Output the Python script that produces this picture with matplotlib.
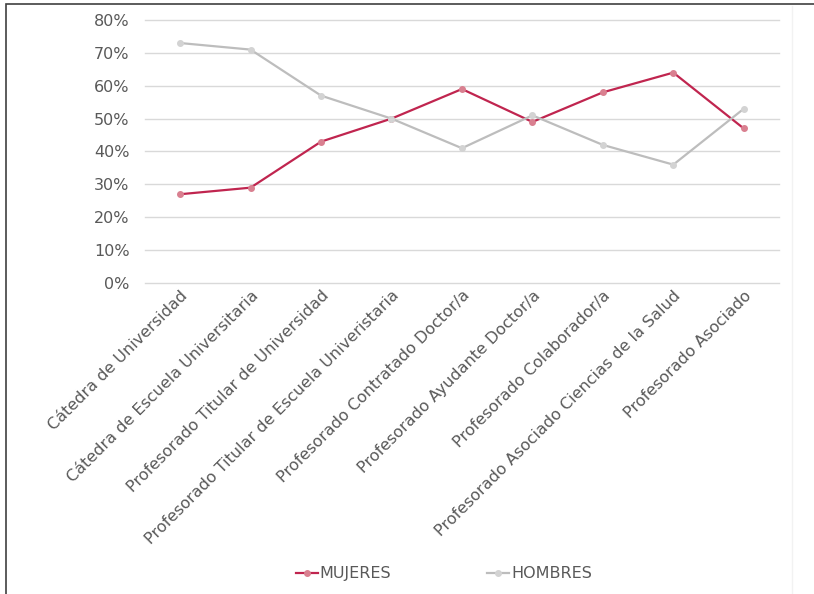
"""Line chart: share of women and men per academic category."""

import matplotlib
matplotlib.use('Agg')

import matplotlib.pyplot as plt
from matplotlib.patches import Rectangle
from matplotlib.lines import Line2D
from matplotlib.ticker import PercentFormatter

# ----------------------------------------------------------------------------

categories = ['Cátedra de Universidad',
              'Cátedra de Escuela Universitaria',
              'Profesorado Titular de Universidad',
              'Profesorado Titular de Escuela Univeristaria',
              'Profesorado Contratado Doctor/a',
              'Profesorado Ayudante Doctor/a',
              'Profesorado Colaborador/a',
              'Profesorado Asociado Ciencias de la Salud',
              'Profesorado Asociado']
mujeres = [0.27, 0.29, 0.43, 0.50, 0.59, 0.49, 0.58, 0.64, 0.47]
hombres = [0.73, 0.71, 0.57, 0.50, 0.41, 0.51, 0.42, 0.36, 0.53]
yticks = [0, 0.1, 0.2, 0.3, 0.4, 0.5, 0.6, 0.7, 0.8]

text_color = '#595959'
colors = {'MUJERES': ('#C0254F', '#D98090'),
          'HOMBRES': ('#BDBDBD', '#D3D3D3')}

plt.rcParams['font.family'] = ['DejaVu Sans']

fig = plt.figure(figsize=(8.14, 5.94), dpi=100)
ax = fig.add_axes([0.178, 0.5236, 0.779, 0.4427])

x = range(len(categories))
for name, values in (('MUJERES', mujeres), ('HOMBRES', hombres)):
    line_c, mark_c = colors[name]
    ax.plot(x, values, color=line_c, lw=1.6, marker='o', ms=4,
            mfc=mark_c, mec=mark_c, zorder=3, label=name)

ax.set_xlim(-0.5, len(categories) - 0.5)
ax.set_ylim(0, 0.8)
ax.set_yticks(yticks)
ax.yaxis.set_major_formatter(PercentFormatter(1.0, decimals=0))
ax.grid(axis='y', color='#D9D9D9', lw=1)
for gl in ax.get_ygridlines():
    gl.set_clip_on(False)
ax.set_axisbelow(True)
for spine in ax.spines.values():
    spine.set_visible(False)
ax.tick_params(axis='both', length=0, colors=text_color, labelsize=11.5)
ax.tick_params(axis='y', pad=11)

ax.set_xticks(list(x))
ax.set_xticklabels(categories, rotation=45, ha='right',
                   rotation_mode='anchor', color=text_color, fontsize=11.5)

# Legend
handles = [Line2D([], [], color=colors[n][0], lw=1.6, marker='o', ms=4,
                  mfc=colors[n][1], mec=colors[n][1]) for n in colors]
fig.legend(handles, list(colors), loc='center', ncol=2,
           bbox_to_anchor=(0.545, 0.034), frameon=False, fontsize=11.5,
           labelcolor=text_color, handlelength=1.4, handletextpad=0.1,
           columnspacing=6)

# Chart border
fig.patches.append(Rectangle((6 / 814, -0.01), 1.1, 1 - 4 / 594 + 0.01,
                             transform=fig.transFigure, fill=False,
                             ec='#404040', lw=1.2))
fig.add_artist(Line2D([792 / 814, 792 / 814], [0, 1 - 6 / 594],
                      transform=fig.transFigure, color='#F2F2F2', lw=1))

fig.savefig('out.png', dpi=100)
